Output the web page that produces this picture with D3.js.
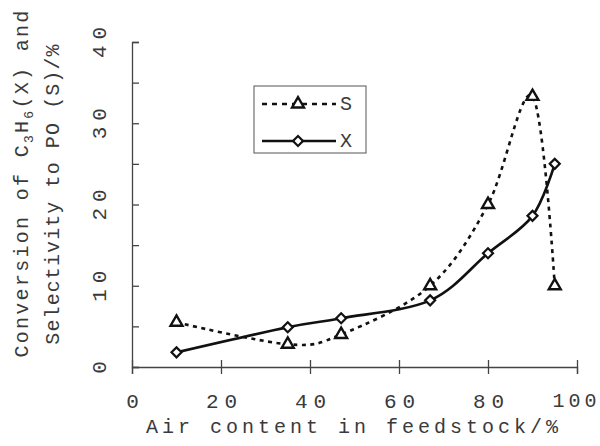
<!DOCTYPE html>
<html>
<head>
<meta charset="utf-8">
<script src="https://cdn.jsdelivr.net/npm/d3@7"></script>
<style>
  body { margin: 0; background: #fff; }
  text { font-family: "Courier New", "Liberation Mono", monospace; fill: #3a3a3a; }
</style>
</head>
<body>
<div id="chart"></div>
<script>
// air content in feedstock (%)
var airContent = [10, 35, 47, 67, 80, 90, 95];
// selectivity to PO (S, %)
var selectivity = [5.5, 2.8, 4.0, 10.0, 20.0, 33.3, 10.0];
// conversion of C3H6 (X, %)
var conversion = [1.8, 4.9, 6.0, 8.2, 14.0, 18.6, 25.0];
var xTicks = [0, 20, 40, 60, 80, 100];
var yTicks = [0, 5, 10, 15, 20, 25, 30, 35, 40];

var width = 600, height = 446;
var margin = {top: 42, right: 23, bottom: 79, left: 132};

var svg = d3.select('#chart').append('svg')
    .attr('width', width)
    .attr('height', height);

var xScale = d3.scaleLinear().domain([0, 100])
    .range([margin.left, width - margin.right]);
var yScale = d3.scaleLinear().domain([0, 40])
    .range([height - margin.bottom, margin.top]);

// x axis - ticks cross the line
var xAxis = d3.axisBottom(xScale).tickValues(xTicks).tickSize(7).tickFormat(d3.format('d'));
var gx = svg.append('g')
    .attr('transform', `translate(0,${yScale(0)})`)
    .call(xAxis);
gx.select('.domain').attr('stroke', '#444').attr('stroke-width', 1.3);
gx.selectAll('.tick line').attr('y1', -7).attr('stroke', '#444').attr('stroke-width', 1.3);
gx.selectAll('.tick text')
    .attr('y', 26)
    .attr('dy', '0.71em')
    .attr('dx', 3)
    .style('font-size', '21px')
    .style('letter-spacing', '6px')
    .attr('fill', '#3a3a3a');
// last label sits at the right edge, squeeze it a little so it fits
gx.selectAll('.tick text').filter(function(d) { return d === 100; })
    .attr('dx', -1)
    .style('font-size', '20px')
    .style('letter-spacing', '4px');

// y axis - ticks point inside, labels rotated
var yAxis = d3.axisLeft(yScale).tickValues(yTicks).tickSize(-7)
    .tickFormat(function(d) { return d % 10 === 0 ? d : ''; });
var gy = svg.append('g')
    .attr('transform', `translate(${xScale(0)},0)`)
    .call(yAxis);
gy.select('.domain').attr('stroke', '#444').attr('stroke-width', 1.3);
gy.selectAll('.tick line').attr('stroke', '#444').attr('stroke-width', 1.3);
gy.selectAll('.tick text')
    .attr('x', null).attr('dy', null)
    .attr('transform', 'translate(-32,0) rotate(-90)')
    .attr('text-anchor', 'middle')
    .attr('dominant-baseline', 'central')
    .attr('dx', 3)
    .style('font-size', '21px')
    .style('letter-spacing', '6px')
    .attr('fill', '#3a3a3a');

// axis titles
svg.append('text')
    .attr('x', 354)
    .attr('y', 433)
    .attr('text-anchor', 'middle')
    .style('font-size', '20px')
    .style('letter-spacing', '4px')
    .text('Air content in feedstock/%');

var t1 = svg.append('text')
    .attr('transform', 'translate(22,183) rotate(-90)')
    .attr('text-anchor', 'middle')
    .attr('dominant-baseline', 'central')
    .style('font-size', '20px')
    .style('letter-spacing', '2.3px');
t1.append('tspan').text('Conversion of C');
t1.append('tspan').attr('baseline-shift', 'sub').style('font-size', '13px').text('3');
t1.append('tspan').text('H');
t1.append('tspan').attr('baseline-shift', 'sub').style('font-size', '13px').text('6');
t1.append('tspan').text('(X) and');

svg.append('text')
    .attr('transform', 'translate(53,194) rotate(-90)')
    .attr('text-anchor', 'middle')
    .attr('dominant-baseline', 'central')
    .style('font-size', '20px')
    .style('letter-spacing', '1.1px')
    .text('Selectivity to PO (S)/%');

// series
var sData = airContent.map(function(d, i) { return [d, selectivity[i]]; });
var xData = airContent.map(function(d, i) { return [d, conversion[i]]; });

var line = d3.line()
    .x(function(d) { return xScale(d[0]); })
    .y(function(d) { return yScale(d[1]); })
    .curve(d3.curveCardinal.tension(0));

svg.append('path')
    .datum(sData)
    .attr('d', line)
    .attr('fill', 'none')
    .attr('stroke', '#111')
    .attr('stroke-width', 2.6)
    .attr('stroke-dasharray', '4,4.5');

svg.append('path')
    .datum(xData)
    .attr('d', line)
    .attr('fill', 'none')
    .attr('stroke', '#111')
    .attr('stroke-width', 2.6);

var triangle = d3.symbol().type(d3.symbolTriangle).size(62);
var diamond = d3.symbol().type(d3.symbolSquare).size(50);

svg.selectAll('.tri')
    .data(sData)
    .enter()
    .append('path')
    .attr('class', 'tri')
    .attr('d', triangle)
    .attr('transform', function(d) { return `translate(${xScale(d[0])},${yScale(d[1])})`; })
    .attr('fill', '#fff')
    .attr('stroke', '#111')
    .attr('stroke-width', 2.4);

svg.selectAll('.dia')
    .data(xData)
    .enter()
    .append('path')
    .attr('class', 'dia')
    .attr('d', diamond)
    .attr('transform', function(d) { return `translate(${xScale(d[0])},${yScale(d[1])}) rotate(45)`; })
    .attr('fill', '#fff')
    .attr('stroke', '#111')
    .attr('stroke-width', 2.2);

// legend
var legend = svg.append('g').attr('transform', 'translate(254,86)');
legend.append('rect')
    .attr('width', 112).attr('height', 67)
    .attr('fill', '#fff')
    .attr('stroke', '#555')
    .attr('stroke-width', 1);

legend.append('line')
    .attr('x1', 8).attr('x2', 82).attr('y1', 18).attr('y2', 18)
    .attr('stroke', '#111').attr('stroke-width', 2.6)
    .attr('stroke-dasharray', '5,5');
legend.append('path')
    .attr('d', triangle)
    .attr('transform', 'translate(44,18)')
    .attr('fill', '#fff').attr('stroke', '#111').attr('stroke-width', 2.4);
legend.append('text')
    .attr('x', 86).attr('y', 18)
    .attr('dominant-baseline', 'central')
    .style('font-size', '20px')
    .text('S');

legend.append('line')
    .attr('x1', 8).attr('x2', 82).attr('y1', 55).attr('y2', 55)
    .attr('stroke', '#111').attr('stroke-width', 2.6);
legend.append('path')
    .attr('d', diamond)
    .attr('transform', 'translate(44,55) rotate(45)')
    .attr('fill', '#fff').attr('stroke', '#111').attr('stroke-width', 2.2);
legend.append('text')
    .attr('x', 86).attr('y', 55)
    .attr('dominant-baseline', 'central')
    .style('font-size', '20px')
    .text('X');
</script>
</body>
</html>
